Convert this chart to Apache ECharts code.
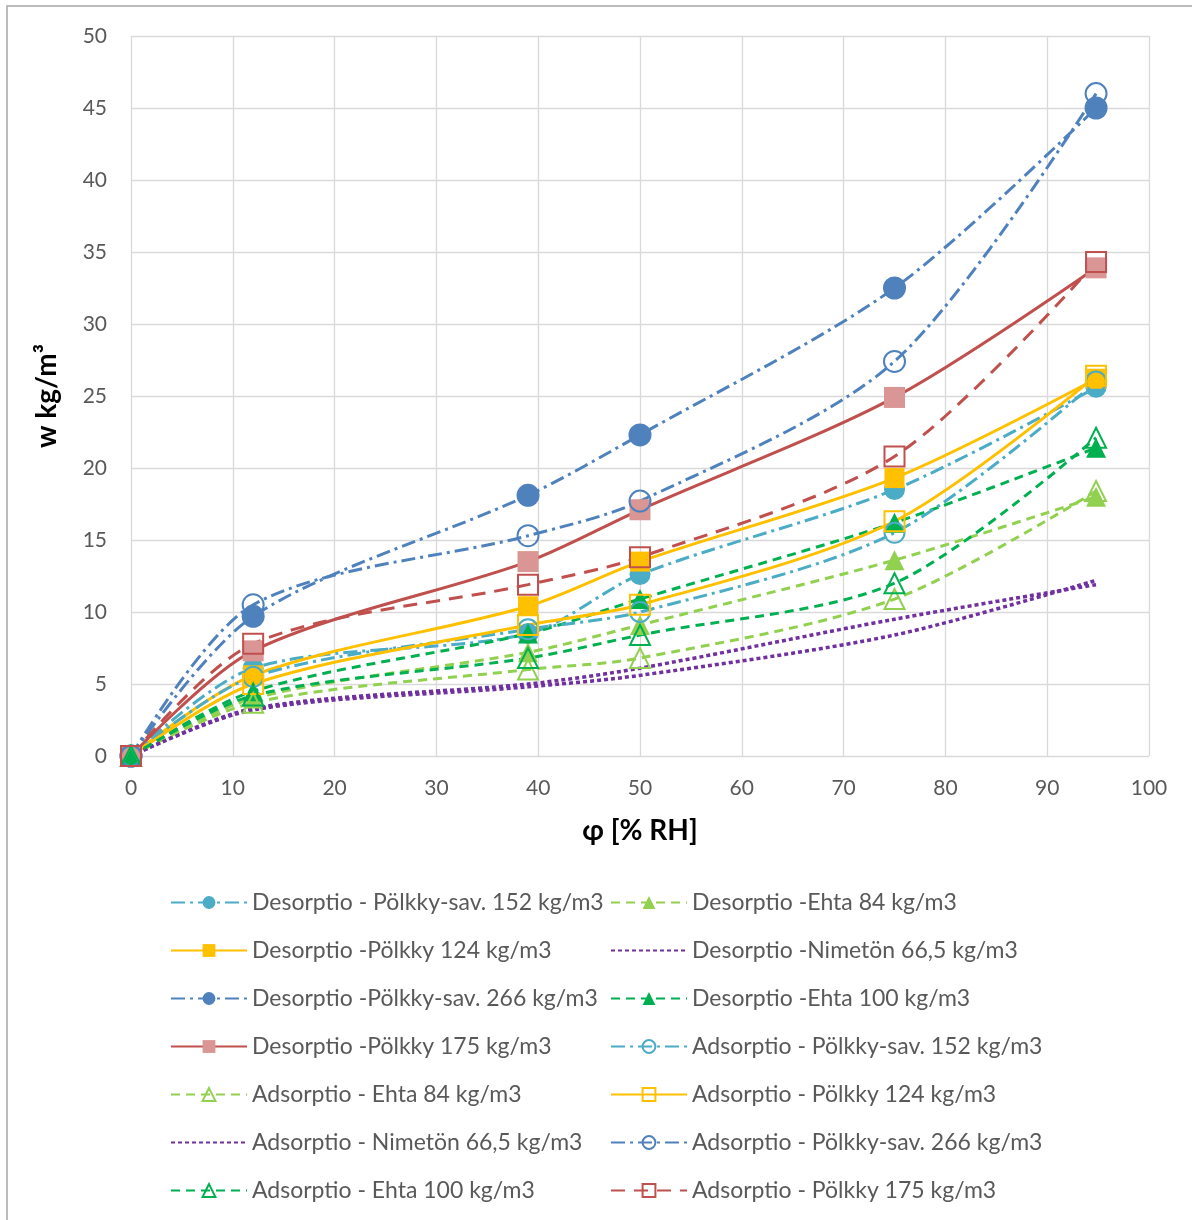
<!DOCTYPE html>
<html>
<head>
<meta charset="utf-8">
<script src="https://cdn.jsdelivr.net/npm/echarts@6/dist/echarts.min.js"></script>
<style>
  html, body { margin: 0; padding: 0; background: #fff; }
  #chart { width: 1192px; height: 1220px; }
</style>
</head>
<body>
<div id="chart"></div>
<script>
// relative humidity steps (x) and moisture content w kg/m3 (y)
const rh = [0, 12, 39, 50, 75, 94.8]

const desSav152 = [0, 6.1, 8.5, 12.6, 18.5, 25.6]
const desPolkky124 = [0, 5.6, 10.4, 13.5, 19.3, 26.2]
const desSav266 = [0, 9.7, 18.1, 22.3, 32.5, 45.0]
const desPolkky175 = [0, 7.3, 13.5, 17.1, 24.9, 33.9]
const desEhta84 = [0, 4.0, 7.2, 9.1, 13.6, 18.0]
const desNimeton = [0, 3.3, 5.0, 6.1, 9.5, 11.9]
const desEhta100 = [0, 4.5, 8.5, 10.9, 16.2, 21.4]
const adsSav152 = [0, 5.5, 8.8, 10.0, 15.5, 26.0]
const adsEhta84 = [0, 3.7, 6.0, 6.8, 10.9, 18.4]
const adsPolkky124 = [0, 5.0, 9.1, 10.5, 16.3, 26.4]
const adsNimeton = [0, 3.2, 4.8, 5.6, 8.4, 12.2]
const adsSav266 = [0, 10.5, 15.3, 17.7, 27.4, 46.0]
const adsEhta100 = [0, 4.2, 6.8, 8.4, 12.0, 22.1]
const adsPolkky175 = [0, 7.8, 11.9, 13.8, 20.8, 34.3]

const names = [
  'Desorptio - Pölkky-sav. 152 kg/m3',
  'Desorptio -Ehta 84 kg/m3',
  'Desorptio -Pölkky 124 kg/m3',
  'Desorptio -Nimetön 66,5 kg/m3',
  'Desorptio -Pölkky-sav. 266 kg/m3',
  'Desorptio -Ehta 100 kg/m3',
  'Desorptio -Pölkky 175 kg/m3',
  'Adsorptio - Pölkky-sav. 152 kg/m3',
  'Adsorptio - Ehta 84 kg/m3',
  'Adsorptio - Pölkky 124 kg/m3',
  'Adsorptio - Nimetön 66,5 kg/m3',
  'Adsorptio - Pölkky-sav. 266 kg/m3',
  'Adsorptio - Ehta 100 kg/m3',
  'Adsorptio - Pölkky 175 kg/m3'
]

const FONT = 'Lato'
const dashDot = [14, 5, 3, 5]
const dashed = [9, 6]
const longDash = [14, 9]
const dots = [4, 3]

const mk = (name, vals, color, symbol, size, filled, dash, fill, width) => ({
  name,
  type: 'line',
  smooth: 0.3,
  data: rh.map((x, i) => [x, vals[i]]),
  symbol,
  symbolSize: size,
  showSymbol: symbol !== 'none',
  lineStyle: { color, width: width || 3, type: dash || 'solid' },
  itemStyle: filled
    ? { color: fill || color, borderColor: fill || color, borderWidth: 0 }
    : { color: 'rgba(255,255,255,0)', borderColor: color, borderWidth: 2 },
  emphasis: { disabled: true }
})

const series = [
  mk(names[0], desSav152, '#4BACC6', 'circle', 21, true, dashDot),
  mk(names[2], desPolkky124, '#FFC000', 'rect', 20, true, 'solid'),
  mk(names[4], desSav266, '#4F81BD', 'circle', 23, true, dashDot),
  mk(names[6], desPolkky175, '#C0504D', 'rect', 21, true, 'solid', '#D99694'),
  mk(names[1], desEhta84, '#92D050', 'triangle', 20, true, dashed),
  mk(names[3], desNimeton, '#7030A0', 'none', 0, true, dots, null, 3.5),
  mk(names[5], desEhta100, '#00B050', 'triangle', 20, true, dashed),
  mk(names[7], adsSav152, '#4BACC6', 'circle', 20, false, dashDot),
  mk(names[8], adsEhta84, '#92D050', 'triangle', 20, false, dashed),
  mk(names[9], adsPolkky124, '#FFC000', 'rect', 20, false, 'solid'),
  mk(names[10], adsNimeton, '#7030A0', 'none', 0, true, dots, null, 3.5),
  mk(names[11], adsSav266, '#4F81BD', 'circle', 21, false, dashDot),
  mk(names[12], adsEhta100, '#00B050', 'triangle', 20, false, dashed),
  mk(names[13], adsPolkky175, '#C0504D', 'rect', 20, false, longDash)
]

// legend entries; the Nimetön lines carry no marker
const legendItem = n => n.indexOf('Nimetön') >= 0
  ? { name: n, itemStyle: { color: 'rgba(0,0,0,0)', borderWidth: 0, opacity: 0 } }
  : { name: n }

const legendBase = {
  orient: 'vertical',
  top: 886,
  itemWidth: 76,
  itemHeight: 16,
  itemGap: 25,
  selectedMode: false,
  textStyle: { color: '#595959', fontSize: 23, fontFamily: FONT }
}

const chart = echarts.init(document.getElementById('chart'))
chart.setOption({
  animation: false,
  backgroundColor: '#fff',
  textStyle: { fontFamily: FONT },
  graphic: [{
    type: 'rect',
    shape: { x: 7, y: 6, width: 1220, height: 1240 },
    style: { fill: 'none', stroke: '#A6A6A6', lineWidth: 1.5 },
    silent: true
  }],
  grid: { left: 131, right: 43, top: 36, bottom: 464 },
  legend: [
    Object.assign({}, legendBase, { left: 165, data: names.filter((n, i) => i % 2 === 0).map(legendItem) }),
    Object.assign({}, legendBase, { left: 605, data: names.filter((n, i) => i % 2 === 1).map(legendItem) })
  ],
  xAxis: {
    type: 'value',
    min: 0,
    max: 100,
    interval: 10,
    name: 'φ [% RH]',
    nameLocation: 'middle',
    nameGap: 61,
    nameTextStyle: { color: '#000', fontSize: 28, fontWeight: 'bold', fontFamily: FONT },
    axisLine: { show: false },
    axisTick: { show: false },
    axisLabel: { color: '#595959', fontSize: 21, margin: 22, fontFamily: FONT },
    splitLine: { show: true, lineStyle: { color: '#D9D9D9', width: 1.3 } }
  },
  yAxis: {
    type: 'value',
    min: 0,
    max: 50,
    interval: 5,
    name: 'w kg/m³',
    nameLocation: 'middle',
    nameGap: 70,
    nameRotate: 90,
    nameTextStyle: { color: '#000', fontSize: 28, fontWeight: 'bold', fontFamily: FONT },
    axisLine: { show: false },
    axisTick: { show: false },
    axisLabel: { color: '#595959', fontSize: 21, margin: 24, fontFamily: FONT },
    splitLine: { show: true, lineStyle: { color: '#D9D9D9', width: 1.3 } }
  },
  series
})
</script>
</body>
</html>
